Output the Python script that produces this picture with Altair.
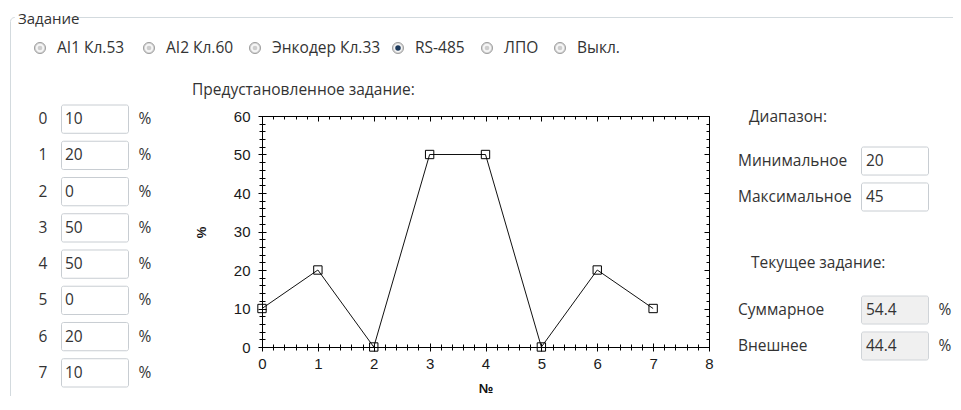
import altair as alt
import pandas as pd

# ---------------- data ----------------
idx = [0, 1, 2, 3, 4, 5, 6, 7]
preset = [10, 20, 0, 50, 50, 0, 20, 10]
x_major = [0, 1, 2, 3, 4, 5, 6, 7, 8]
y_major = [0, 10, 20, 30, 40, 50, 60]
x_minor = [round(i * 0.2, 1) for i in range(41) if i % 5]
y_minor = [i for i in range(0, 61, 2) if i % 10]
sources = ["AI1 Кл.53", "AI2 Кл.60", "Энкодер Кл.33", "RS-485", "ЛПО", "Выкл."]
selected = "RS-485"
range_labels = ["Минимальное", "Максимальное"]
range_values = ["20", "45"]
current_labels = ["Суммарное", "Внешнее"]
current_values = ["54.4", "44.4"]

# ---------------- layout (page pixels) ----------------
X0, Y0, W, H = 262, 116, 447, 231


def px(v):
    return v - X0


def py(v):
    return v - Y0


radio_x = [40, 149, 255, 398, 487, 560]
RADIO_GAP = 17
UI_FONT = "Open Sans"
UI_SIZE = 15.5
UI_COLOR = "#333333"
AX_FONT = "Liberation Sans"
AX_SIZE = 15
BOX_STROKE = "#c8cdd2"

one = pd.DataFrame({"k": [0]})


def ui_text(txt, x, y, align="left", size=UI_SIZE, color=UI_COLOR):
    return alt.Chart(pd.DataFrame({"t": [txt]})).mark_text(
        align=align, baseline="middle", font=UI_FONT, fontSize=size, color=color
    ).encode(x=alt.value(px(x)), y=alt.value(py(y)), text="t:N")


# ---------------- graph ----------------
df = pd.DataFrame({"n": idx, "v": preset})
xs = alt.Scale(domain=[0, 8], nice=False, zero=False)
ys = alt.Scale(domain=[0, 60], nice=False, zero=False)
base = alt.Chart(df)


def tick_axis(orient, values, size):
    return alt.Axis(orient=orient, values=values, tickSize=size, offset=-size,
                    labels=False, domain=False, grid=False, title=None,
                    tickColor="black", tickWidth=1)


def cross_axis(orient, values, half):
    return alt.Axis(orient=orient, values=values, tickSize=2 * half, offset=-half,
                    labels=False, domain=False, grid=False, title=None,
                    tickColor="black", tickWidth=1)


main_x = alt.Axis(orient="bottom", values=x_major, format="d", tickSize=8, offset=-4,
                  domain=False, grid=False, tickColor="black", tickWidth=1,
                  labelFont=AX_FONT, labelFontSize=AX_SIZE, labelColor="#1a1a1a",
                  labelFlush=False, labelOverlap=False,
                  labelPadding=5, title="№", titleFont=AX_FONT, titleFontSize=13,
                  titleFontWeight="bold", titleColor="#111111", titleBaseline="middle",
                  titleY=45)
main_y = alt.Axis(orient="left", values=y_major, format="d", tickSize=8, offset=-4,
                  domain=False, grid=False, tickColor="black", tickWidth=1,
                  labelFont=AX_FONT, labelFontSize=AX_SIZE, labelColor="#1a1a1a",
                  labelFlush=False, labelOverlap=False,
                  labelPadding=8, title="%", titleFont=AX_FONT, titleFontSize=13,
                  titleFontWeight="bold", titleColor="#111111", titleAngle=270,
                  titleAlign="center", titleBaseline="middle", titleX=-65, titleY=116)

line = base.mark_line(color="#111111", strokeWidth=1).encode(
    x=alt.X("n:Q", scale=xs, axis=main_x),
    y=alt.Y("v:Q", scale=ys, axis=main_y),
)
points = base.mark_point(shape="square", filled=False, size=70, color="#000000",
                         strokeWidth=1, opacity=1).encode(
    x=alt.X("n:Q", scale=xs, axis=cross_axis("bottom", x_minor, 3)),
    y=alt.Y("v:Q", scale=ys, axis=cross_axis("left", y_minor, 3)),
)
ticks_major = base.mark_point(opacity=0).encode(
    x=alt.X("n:Q", scale=xs, axis=tick_axis("top", x_major, 5)),
    y=alt.Y("v:Q", scale=ys, axis=tick_axis("right", y_major, 5)),
)
ticks_minor = base.mark_point(opacity=0).encode(
    x=alt.X("n:Q", scale=xs, axis=tick_axis("top", x_minor, 3)),
    y=alt.Y("v:Q", scale=ys, axis=tick_axis("right", y_minor, 3)),
)

# ---------------- group box ----------------
frame = alt.Chart(one).mark_rect(filled=False, stroke="#d3dade", strokeWidth=1,
                                 cornerRadius=4).encode(
    x=alt.value(px(10.5)), x2=alt.value(px(1000)),
    y=alt.value(py(17.5)), y2=alt.value(py(460)))
cover = alt.Chart(one).mark_rect(fill="white").encode(
    x=alt.value(px(15)), x2=alt.value(px(67)),
    y=alt.value(py(10)), y2=alt.value(py(26)))
group_title = ui_text("Задание", 18, 19, size=15)

# ---------------- radio buttons ----------------
radio_layers = []
for lab, cx in zip(sources, radio_x):
    c = alt.Chart(pd.DataFrame({"t": [lab]}))
    radio_layers.append(c.mark_point(shape="circle", filled=True, size=125, fill="#d2d2d2",
                                     stroke="#a3a3a3", strokeWidth=1, opacity=1).encode(
        x=alt.value(px(cx)), y=alt.value(py(48))))
    radio_layers.append(c.mark_point(shape="circle", filled=True, size=70, fill="#f5f5f5",
                                     opacity=1).encode(
        x=alt.value(px(cx)), y=alt.value(py(48))))
    if lab == selected:
        radio_layers.append(c.mark_point(shape="circle", filled=True, size=30, fill="#1d3a5c",
                                         opacity=1).encode(
            x=alt.value(px(cx)), y=alt.value(py(48))))
    else:
        radio_layers.append(c.mark_point(shape="circle", filled=True, size=22, fill="#cdcdcd",
                                         opacity=1).encode(
            x=alt.value(px(cx)), y=alt.value(py(48))))
    radio_layers.append(c.mark_text(align="left", baseline="middle", font=UI_FONT,
                                    fontSize=UI_SIZE, color=UI_COLOR).encode(
        x=alt.value(px(cx + RADIO_GAP)), y=alt.value(py(48)), text="t:N"))

# ---------------- left input column ----------------
left_df = pd.DataFrame({"row": idx, "val": [str(v) for v in preset]})
row_scale = alt.Scale(type="band", domain=idx, range=[py(105), py(387)],
                      paddingInner=0.22, paddingOuter=0)
lc = alt.Chart(left_df)
ly = alt.Y("row:O", scale=row_scale, axis=None)
left_boxes = lc.mark_rect(fill="white", stroke=BOX_STROKE, strokeWidth=1, cornerRadius=2).encode(
    x=alt.value(px(61.5)), x2=alt.value(px(128.5)), y=ly)
left_idx = lc.mark_text(align="center", baseline="middle", font=UI_FONT, fontSize=UI_SIZE,
                        color=UI_COLOR).encode(x=alt.value(px(43)), y=ly, text="row:N")
left_val = lc.mark_text(align="left", baseline="middle", font=UI_FONT, fontSize=UI_SIZE,
                        color=UI_COLOR).encode(x=alt.value(px(65)), y=ly, text="val:N")
left_pct = lc.mark_text(align="center", baseline="middle", font=UI_FONT, fontSize=UI_SIZE,
                        color=UI_COLOR).encode(x=alt.value(px(145)), y=ly, text=alt.value("%"))

# ---------------- right panel ----------------
rng_df = pd.DataFrame({"lab": range_labels, "val": range_values})
rng_scale = alt.Scale(type="band", domain=range_labels, range=[py(147), py(211)],
                      paddingInner=0.22, paddingOuter=0)
rc = alt.Chart(rng_df)
ry = alt.Y("lab:N", scale=rng_scale, axis=None)
rng_boxes = rc.mark_rect(fill="white", stroke=BOX_STROKE, strokeWidth=1, cornerRadius=2).encode(
    x=alt.value(px(861.5)), x2=alt.value(px(928.5)), y=ry)
rng_lab = rc.mark_text(align="left", baseline="middle", font=UI_FONT, fontSize=UI_SIZE,
                       color=UI_COLOR).encode(x=alt.value(px(738)), y=ry, text="lab:N")
rng_val = rc.mark_text(align="left", baseline="middle", font=UI_FONT, fontSize=UI_SIZE,
                       color=UI_COLOR).encode(x=alt.value(px(866)), y=ry, text="val:N")

cur_df = pd.DataFrame({"lab": current_labels, "val": current_values})
cur_scale = alt.Scale(type="band", domain=current_labels, range=[py(296), py(360)],
                      paddingInner=0.22, paddingOuter=0)
cc = alt.Chart(cur_df)
cy = alt.Y("lab:N", scale=cur_scale, axis=None)
cur_boxes = cc.mark_rect(fill="#f0f0f0", stroke="#d0d4d8", strokeWidth=1, cornerRadius=2).encode(
    x=alt.value(px(861.5)), x2=alt.value(px(928.5)), y=cy)
cur_lab = cc.mark_text(align="left", baseline="middle", font=UI_FONT, fontSize=UI_SIZE,
                       color=UI_COLOR).encode(x=alt.value(px(738)), y=cy, text="lab:N")
cur_val = cc.mark_text(align="left", baseline="middle", font=UI_FONT, fontSize=UI_SIZE,
                       color=UI_COLOR).encode(x=alt.value(px(866)), y=cy, text="val:N")
cur_pct = cc.mark_text(align="center", baseline="middle", font=UI_FONT, fontSize=UI_SIZE,
                       color=UI_COLOR).encode(x=alt.value(px(945)), y=cy, text=alt.value("%"))

layers = [frame, cover, group_title] + radio_layers + [
    ui_text("Предустановленное задание:", 192, 90),
    ui_text("Диапазон:", 749, 117),
    ui_text("Текущее задание:", 751, 263),
    left_boxes, left_idx, left_val, left_pct,
    rng_boxes, rng_lab, rng_val,
    cur_boxes, cur_lab, cur_val, cur_pct,
    line, points, ticks_major, ticks_minor,
]

chart = alt.layer(*layers).properties(
    width=W, height=H,
    autosize=alt.AutoSizeParams(type="none"),
    padding={"left": X0 - 8, "top": Y0 - 8, "right": 244, "bottom": 49},
    background="white",
).resolve_scale(x="independent", y="independent").configure_view(
    stroke="black", strokeWidth=1
)

chart.save("out.html", embed_options={"renderer": "svg", "actions": False})
